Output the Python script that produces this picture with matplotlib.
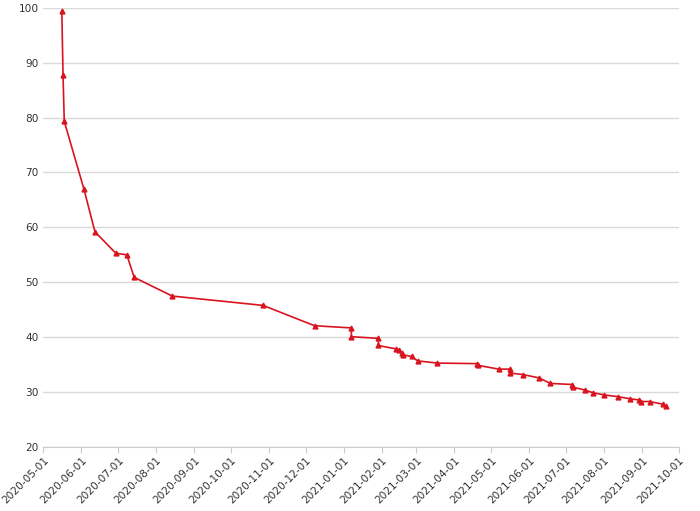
import matplotlib
matplotlib.use("Agg")
import matplotlib.pyplot as plt
import matplotlib.dates as mdates
import pandas as pd

dates = ["2020-05-16", "2020-05-17", "2020-05-18", "2020-06-03", "2020-06-12",
         "2020-06-29", "2020-07-08", "2020-07-14", "2020-08-14", "2020-10-27",
         "2020-12-08", "2021-01-07", "2021-01-07", "2021-01-29", "2021-01-29",
         "2021-02-12", "2021-02-15", "2021-02-17", "2021-02-18", "2021-02-25",
         "2021-03-02", "2021-03-18", "2021-04-19", "2021-04-20", "2021-05-07",
         "2021-05-16", "2021-05-16", "2021-05-27", "2021-06-09", "2021-06-18",
         "2021-07-06", "2021-07-07", "2021-07-16", "2021-07-23", "2021-08-01",
         "2021-08-12", "2021-08-22", "2021-08-29", "2021-08-31", "2021-09-07",
         "2021-09-18", "2021-09-20"]
values = [99.4, 87.7, 79.3, 67.0, 59.2,
          55.3, 55.0, 50.9, 47.5, 45.8,
          42.1, 41.7, 40.1, 39.8, 38.5,
          37.9, 37.6, 37.2, 36.8, 36.5,
          35.7, 35.3, 35.2, 34.9, 34.2,
          34.2, 33.5, 33.2, 32.6, 31.6,
          31.4, 30.9, 30.4, 29.9, 29.5,
          29.2, 28.8, 28.6, 28.3, 28.3,
          27.8, 27.4]

x = pd.to_datetime(dates)

fig, ax = plt.subplots(figsize=(7, 5.11), dpi=100)
fig.subplots_adjust(left=0.062, right=0.97, top=0.985, bottom=0.125)

ax.plot(x, values, color="#d9141e", lw=1.2, marker="^", ms=3.5)

ax.set_ylim(20, 100)
ax.set_yticks(range(20, 101, 10))
ax.set_xlim(pd.Timestamp("2020-05-01"), pd.Timestamp("2021-10-01"))
ax.xaxis.set_major_locator(mdates.MonthLocator())
ax.xaxis.set_major_formatter(mdates.DateFormatter("%Y-%m-%d"))
plt.setp(ax.get_xticklabels(), rotation=45, ha="right", rotation_mode="anchor")
ax.tick_params(axis="both", labelsize=7.6, colors="#333333", length=0)
ax.tick_params(axis="x", length=4, color="#cccccc", pad=2)

ax.grid(axis="y", color="#d9d9d9", lw=1)
ax.set_axisbelow(True)
for s in ["top", "right", "left"]:
    ax.spines[s].set_visible(False)
ax.spines["bottom"].set_color("#cccccc")

fig.savefig("out.png")
